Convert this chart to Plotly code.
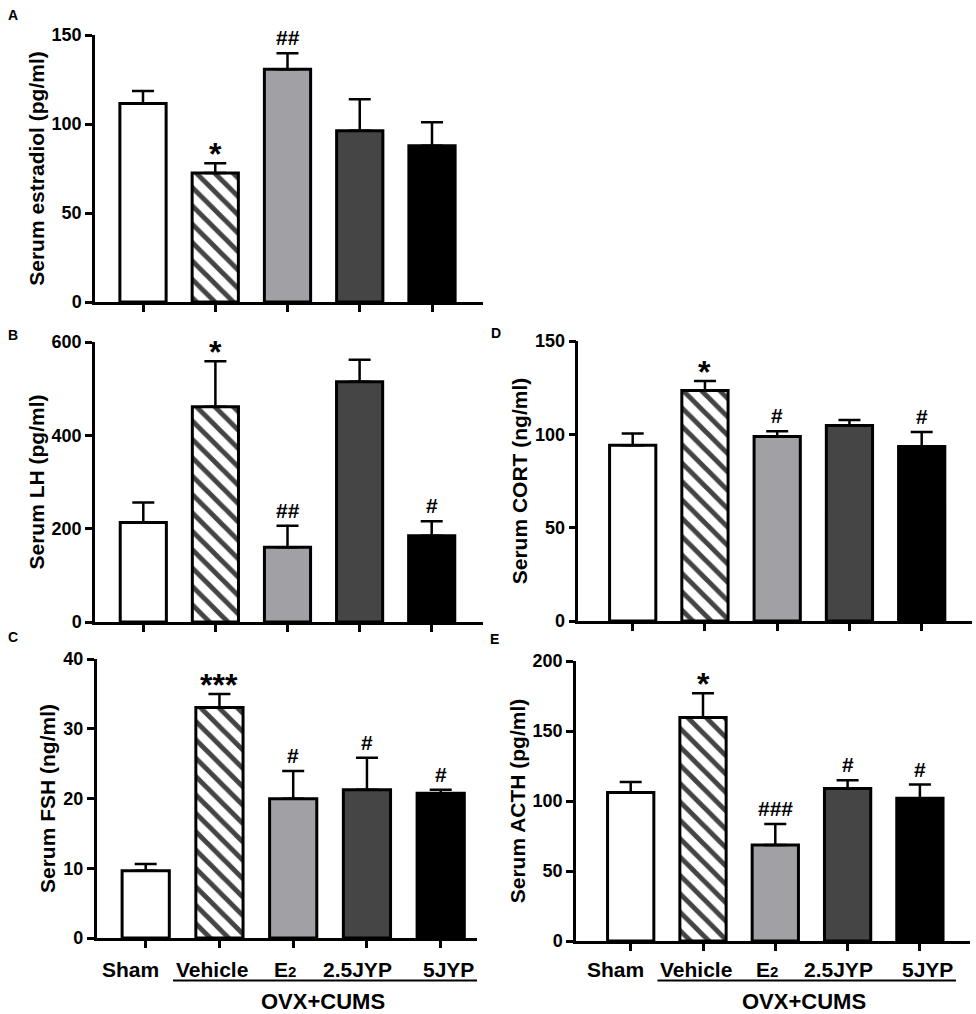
import plotly.graph_objects as go

W, H = 976, 1014

groups = ["Sham", "Vehicle", "E2", "2.5JYP", "5JYP"]
group_labels = ["Sham", "Vehicle", "E<span style='font-size:15px'>2</span>", "2.5JYP", "5JYP"]

estradiol_mean = [111.5, 72.5, 130.7, 96.2, 87.8]
estradiol_sem = [7.0, 5.4, 9.0, 17.7, 13.2]
estradiol_sig = ["", "*", "##", "", ""]

lh_mean = [213, 461, 160, 515, 185]
lh_sem = [43, 98, 46, 47, 31]
lh_sig = ["", "*", "##", "", "#"]

fsh_mean = [9.65, 33.06, 19.97, 21.26, 20.74]
fsh_sem = [0.95, 1.94, 3.97, 4.59, 0.52]
fsh_sig = ["", "***", "#", "#", "#"]

cort_mean = [94.2, 123.5, 98.8, 104.7, 93.5]
cort_sem = [6.2, 5.1, 2.9, 3.0, 7.8]
cort_sig = ["", "*", "#", "", "#"]

acth_mean = [106.0, 159.6, 68.6, 108.9, 101.9]
acth_sem = [7.6, 17.3, 15.0, 5.9, 9.8]
acth_sig = ["", "*", "###", "#", "#"]

bar_colors = ["white", "white", "#A0A0A5", "#454545", "black"]
bar_patterns = ["", "\\", "", "", ""]

FONT = "Liberation Sans, Arial, sans-serif"

def fx(px):
    return px / W

def fy(py):
    return 1 - py / H

panels = [
    ("A", estradiol_mean, estradiol_sem, estradiol_sig, "Serum estradiol (pg/ml)", 150, 50,
     (95, 483), (35, 302), 143.0, 72.25, (13, 15), False),
    ("B", lh_mean, lh_sem, lh_sig, "Serum LH (pg/ml)", 600, 200,
     (95, 483), (342, 622), 143.3, 72.1, (13, 335), False),
    ("C", fsh_mean, fsh_sem, fsh_sig, "Serum FSH (ng/ml)", 40, 10,
     (96.7, 477), (659, 938), 145.7, 73.75, (13, 637), True),
    ("D", cort_mean, cort_sem, cort_sig, "Serum CORT (ng/ml)", 150, 50,
     (578.3, 972), (341, 621), 632.7, 72.25, (496, 333), False),
    ("E", acth_mean, acth_sem, acth_sig, "Serum ACTH (pg/ml)", 200, 50,
     (576, 970), (661, 941), 630.7, 72.3, (494, 639), True),
]

label_nudge = [-15, -7, -8, -9, 8]

fig = go.Figure()
annotations = []
shapes = []

for i, (letter, means, sems, sigs, ytitle, ymax, dtick, xd, yd, c0, sp, lpos, show_lab) in enumerate(panels):
    n = "" if i == 0 else str(i + 1)
    xa, ya = "x" + n, "y" + n
    xs = list(range(len(groups)))
    fig.add_trace(go.Bar(
        x=xs, y=means, xaxis=xa, yaxis=ya, width=0.64,
        marker=dict(color=bar_colors, line=dict(color="black", width=3),
                    pattern=dict(shape=bar_patterns, fgcolor="black", fgopacity=1,
                                 size=13, solidity=0.38)),
        error_y=dict(type="data", symmetric=False, array=sems, arrayminus=[0] * len(sems),
                     color="black", thickness=2.5, width=11),
        showlegend=False, hoverinfo="skip",
    ))
    xr = [(xd[0] - c0) / sp, (xd[1] - c0) / sp]
    fig.update_layout(**{
        "xaxis" + n: dict(domain=[fx(xd[0]), fx(xd[1])], range=xr, anchor=ya,
                          showline=True, linecolor="black", linewidth=2.5,
                          ticks="outside", ticklen=7, tickwidth=2.5, tickcolor="black",
                          tickvals=xs, showticklabels=False, showgrid=False, zeroline=False,
                          automargin=False, fixedrange=True),
        "yaxis" + n: dict(domain=[fy(yd[1]), fy(yd[0])], range=[0, ymax], anchor=xa,
                          showline=True, linecolor="black", linewidth=2.5,
                          ticks="outside", ticklen=7, tickwidth=2.5, tickcolor="black",
                          dtick=dtick, tick0=0, showgrid=False, zeroline=False,
                          tickfont=dict(family=FONT, size=18, color="black", weight="bold"),
                          title=dict(text=ytitle, standoff=2,
                                     font=dict(family=FONT, size=21, color="black", weight="bold")),
                          automargin=False, fixedrange=True),
    })
    for k, s in enumerate(sigs):
        if not s:
            continue
        star = s.startswith("*")
        annotations.append(dict(
            x=k, y=means[k] + sems[k], xref=xa, yref=ya, text="<b>" + s + "</b>", showarrow=False,
            yanchor="bottom", yshift=-11 if star else 2,
            font=dict(family=FONT, size=32 if star else 21, color="black", weight="bold"),
        ))
    annotations.append(dict(x=fx(lpos[0]), y=fy(lpos[1]), xref="paper", yref="paper",
                            text=letter, showarrow=False, xanchor="center", yanchor="middle",
                            font=dict(family=FONT, size=14, color="black", weight="bold")))
    if show_lab:
        for k, lab in enumerate(group_labels):
            annotations.append(dict(x=k, y=fy(969), xref=xa, yref="paper", text=lab,
                                    showarrow=False, yanchor="middle", xshift=label_nudge[k],
                                    font=dict(family=FONT, size=21, color="black", weight="bold")))
        shapes.append(dict(type="line", xref=xa, yref="paper", x0=0.37, x1=4.5,
                           y0=fy(980.5), y1=fy(980.5), line=dict(color="black", width=2)))
        annotations.append(dict(x=2.4, y=fy(1001), xref=xa, yref="paper", text="OVX+CUMS",
                                showarrow=False, yanchor="middle",
                                font=dict(family=FONT, size=22, color="black", weight="bold")))

fig.update_layout(width=W, height=H, margin=dict(l=0, r=0, t=0, b=0),
                  paper_bgcolor="white", plot_bgcolor="white",
                  annotations=annotations, shapes=shapes, bargap=0.3)

fig.write_html("out.html", config={"displayModeBar": False},
               post_script="document.body.style.margin='0';document.body.style.overflow='hidden';")
